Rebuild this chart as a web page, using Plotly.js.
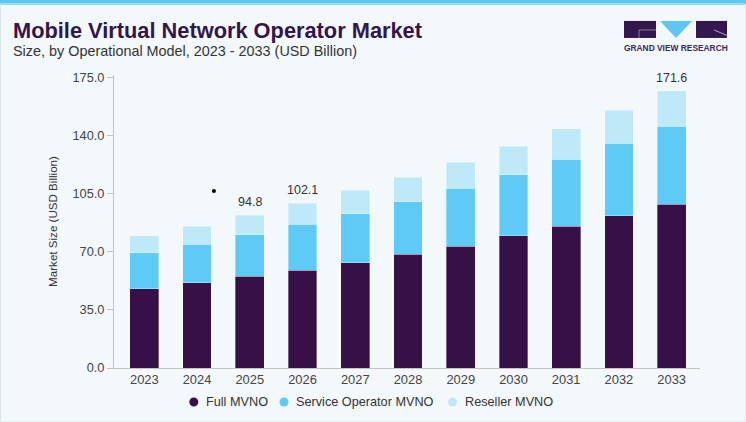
<!DOCTYPE html>
<html>
<head>
<meta charset="utf-8">
<script src="https://cdn.plot.ly/plotly-3.0.1.min.js"></script>
<style>
html,body{margin:0;padding:0;background:#f3f8fb;}
#chart{width:746px;height:422px;}
</style>
</head>
<body>
<div id="chart"></div>
<script>
// ---- data ----
const years = [2023, 2024, 2025, 2026, 2027, 2028, 2029, 2030, 2031, 2032, 2033];
const fullMVNO = [47.8, 51.2, 55.3, 58.9, 63.5, 68.5, 73.2, 79.5, 85.2, 91.8, 98.5];
const serviceOperatorMVNO = [21.5, 23.3, 24.8, 27.5, 29.5, 31.5, 34.9, 36.8, 40.4, 43.4, 47.1];
const resellerMVNO = [10.2, 10.9, 11.9, 12.7, 14.1, 14.9, 15.9, 17.3, 18.4, 20.1, 21.3];
const totalLabels = ["", "", "94.8", "102.1", "", "", "", "", "", "", "171.6"];
const seriesNames = ["Full MVNO", "Service Operator MVNO", "Reseller MVNO"];
const seriesColors = ["#371047", "#5ecbf6", "#bde9f9"];
const yTicks = [0, 35, 70, 105, 140, 175];
const strayDotX = [2024.32];
const strayDotY = [106.5];

// ---- layout geometry ----
const W = 746, H = 422, L = 114, R = 46, T = 75, B = 54.3;
const PW = W - L - R, PH = H - T - B;
const px = v => (v - L) / PW;
const py = v => (H - B - v) / PH;
const FONT = '"Liberation Sans", Arial, sans-serif';

const seriesValues = [fullMVNO, serviceOperatorMVNO, resellerMVNO];
const traces = seriesValues.map((vals, i) => ({
  type: 'bar',
  name: seriesNames[i],
  x: years,
  y: vals,
  width: 0.544,
  marker: {color: seriesColors[i], line: {color: 'rgba(255,255,255,0.55)', width: 0.6}},
  showlegend: false,
  hoverinfo: 'x+y+name'
}));
traces.push({
  type: 'scatter', mode: 'markers', x: strayDotX, y: strayDotY,
  marker: {color: '#000', size: 4}, showlegend: false, hoverinfo: 'skip'
});

const annotations = [];
years.forEach((yr, i) => {
  if (!totalLabels[i]) return;
  const tot = fullMVNO[i] + serviceOperatorMVNO[i] + resellerMVNO[i];
  annotations.push({
    x: yr, y: tot, xref: 'x', yref: 'y', text: totalLabels[i], showarrow: false,
    yanchor: 'bottom', yshift: 4, font: {family: FONT, size: 12.5, color: '#333'}
  });
});
// title & subtitle
annotations.push({
  xref: 'paper', yref: 'paper', x: px(11), y: py(30.5), xanchor: 'left', yanchor: 'middle',
  text: '<b>Mobile Virtual Network Operator Market</b>', showarrow: false,
  font: {family: FONT, size: 21.8, color: '#33154d'}
});
annotations.push({
  xref: 'paper', yref: 'paper', x: px(11), y: py(51), xanchor: 'left', yanchor: 'middle',
  text: 'Size, by Operational Model, 2023 - 2033 (USD Billion)', showarrow: false,
  font: {family: FONT, size: 14.4, color: '#333'}
});
// logo text
annotations.push({
  xref: 'paper', yref: 'paper', x: px(675.5), y: py(48), xanchor: 'center', yanchor: 'middle',
  text: '<b>GRAND VIEW RESEARCH</b>', showarrow: false,
  font: {family: FONT, size: 8.4, color: '#3a2a5a'}
});

// custom legend
const legendMarkerX = [193.8, 284, 452.5];
const legendY = 401.7;
const shapes = [];
seriesNames.forEach((nm, i) => {
  const cx = legendMarkerX[i];
  shapes.push({
    type: 'circle', xref: 'paper', yref: 'paper',
    x0: px(cx - 4.5), x1: px(cx + 4.5), y0: py(legendY + 4.5), y1: py(legendY - 4.5),
    fillcolor: seriesColors[i], line: {width: 0}
  });
  annotations.push({
    xref: 'paper', yref: 'paper', x: px(cx + 10), y: py(legendY), xanchor: 'left', yanchor: 'middle',
    text: nm, showarrow: false, font: {family: FONT, size: 12.7, color: '#333'}
  });
});

// top stripe, card border
shapes.push({type: 'rect', xref: 'paper', yref: 'paper', x0: px(0), x1: px(746), y0: py(5), y1: py(0),
  fillcolor: '#5bc8f4', line: {width: 0}, layer: 'below'});
shapes.push({type: 'rect', xref: 'paper', yref: 'paper', x0: px(0.5), x1: px(745.5), y0: py(421.5), y1: py(4),
  fillcolor: 'rgba(0,0,0,0)', line: {width: 1, color: '#dde7ee'}, layer: 'below'});
// logo shapes
shapes.push({type: 'rect', xref: 'paper', yref: 'paper', x0: px(624), x1: px(656), y0: py(38), y1: py(21),
  fillcolor: '#35174f', line: {width: 0}});
shapes.push({type: 'path', xref: 'paper', yref: 'paper',
  path: `M ${px(639)} ${py(38)} L ${px(639)} ${py(30)} L ${px(656)} ${py(30)}`,
  line: {width: 0.8, color: '#9a8fae'}});
shapes.push({type: 'path', xref: 'paper', yref: 'paper',
  path: `M ${px(660)} ${py(21)} L ${px(692)} ${py(21)} L ${px(676)} ${py(38)} Z`,
  fillcolor: '#5bc8f4', line: {width: 0}});
shapes.push({type: 'rect', xref: 'paper', yref: 'paper', x0: px(696), x1: px(727), y0: py(38), y1: py(21),
  fillcolor: '#35174f', line: {width: 0}});
shapes.push({type: 'path', xref: 'paper', yref: 'paper',
  path: `M ${px(714)} ${py(30)} L ${px(727)} ${py(35.5)}`,
  line: {width: 0.8, color: '#cfc8dc'}});

const layout = {
  width: W, height: H,
  margin: {l: L, r: R, t: T, b: B, pad: 0},
  paper_bgcolor: '#f3f8fb', plot_bgcolor: 'rgba(0,0,0,0)',
  barmode: 'stack',
  showlegend: false,
  font: {family: FONT, color: '#444'},
  xaxis: {
    type: 'linear', range: [2022.4255, 2033.537], tickvals: years, ticktext: years.map(String),
    showline: true, linecolor: '#c4c4c4', linewidth: 1, showgrid: false, zeroline: false,
    ticks: '', tickfont: {family: FONT, size: 12.9, color: '#444'}, fixedrange: true
  },
  yaxis: {
    range: [0, 176.4], tickvals: yTicks, tickformat: '.1f',
    showline: true, linecolor: '#c4c4c4', linewidth: 1, showgrid: false, zeroline: false,
    ticks: 'outside', ticklen: 6, tickcolor: '#c4c4c4',
    tickfont: {family: FONT, size: 12.8, color: '#444'},
    title: {text: 'Market Size (USD Billion)', font: {family: FONT, size: 11.6, color: '#333'}, standoff: 12},
    fixedrange: true
  },
  annotations: annotations,
  shapes: shapes
};

Plotly.newPlot('chart', traces, layout, {displayModeBar: false, staticPlot: true});
</script>
</body>
</html>
